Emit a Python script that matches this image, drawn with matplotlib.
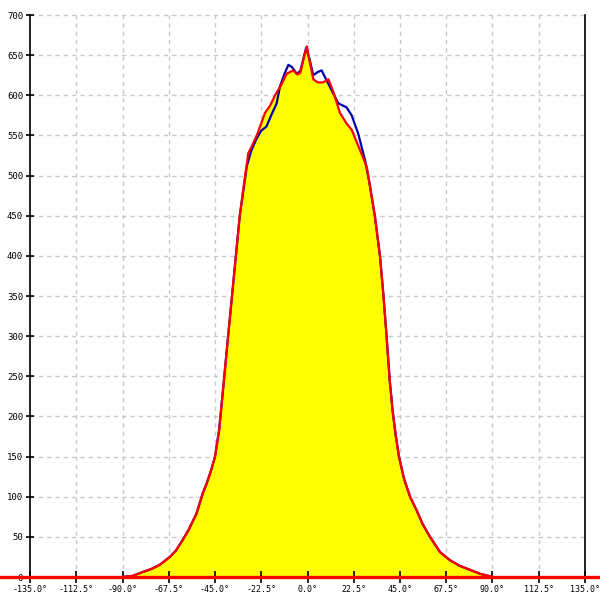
import matplotlib
matplotlib.use("Agg")
import matplotlib.pyplot as plt

# angle (deg) / counts
blue_deg = [-90, -85, -81.5, -76, -72, -67, -64, -61, -58, -54, -51, -49, -47, -45,
            -43, -41, -39, -37, -35, -33, -31, -29.5, -27.5, -25,
            -22.5, -20, -17.5, -15, -13.4, -11, -9.3, -7.5, -5.3, -3.5, -0.7, 1, 2.8,
            5, 6.9, 9, 12.6, 15, 16.6, 19, 21.5, 24.7, 28, 30, 32.8, 35.3, 37, 38.5,
            40, 41.5, 43, 44.5, 47, 49.9, 53.1, 56, 59.6, 64.5, 69.3, 74, 79, 84, 87.2, 90]
blue_val = [0, 1.5, 5, 10, 15, 25, 33, 45, 58, 79, 104, 117, 132, 150,
            183, 236, 290, 343, 396, 449, 485, 512, 530, 545,
            556, 561, 576, 590, 611, 628, 638, 635, 627, 630, 659, 645, 625,
            629, 631, 620, 602, 590, 588, 585, 575, 552, 519, 493, 449, 399, 349, 299,
            245, 205, 175, 150, 122, 100, 83, 66, 50, 31, 21, 14, 9, 4, 2, 0]

red_deg = [-90, -85, -81.5, -76, -72, -67, -64, -61, -58, -54, -51, -49, -47, -45,
           -43, -41, -39, -37, -35, -33, -31, -29.5, -28.8, -27.2,
           -24.7, -22.5, -20.7, -18.2, -15.8, -13, -10.1, -6.9, -5, -3.5, -1.5, -0.3,
           1.2, 2.8, 5, 7.5, 10.2, 12.6, 15.8, 19, 21.5, 25.5, 28.8, 30, 32.8, 35.3,
           37, 38.5, 40, 41.5, 43, 44.5, 47, 49.9, 53.1, 56, 59.6, 64.5, 69.3, 74, 79,
           84, 87.2, 90]
red_val = [0, 1.5, 5, 10, 15, 25, 33, 45, 58, 79, 104, 117, 132, 150,
           183, 236, 290, 343, 396, 449, 488, 515, 528, 536,
           550, 565, 578, 587, 600, 612, 627, 631, 626, 628, 650, 661,
           640, 620, 616, 616, 620, 604, 578, 565, 557, 532, 511, 493, 449, 399,
           349, 299, 245, 205, 175, 150, 122, 100, 83, 66, 50, 31, 21, 14, 9,
           4, 2, 0]

x_ticks = [-135.0, -112.5, -90.0, -67.5, -45.0, -22.5, 0.0, 22.5, 45.0, 67.5, 90.0, 112.5, 135.0]
y_ticks = list(range(0, 701, 50))

fig = plt.figure(figsize=(6, 6), dpi=100)
ax = fig.add_axes([0, 0, 1, 1])
ax.set_xlim(-149.6, 142.3)
ax.set_ylim(-28.6, 718.7)

grid_kw = dict(color="#c8c8c8", linewidth=1, linestyles=(0, (3, 3)), zorder=0)
ax.vlines(x_ticks[1:-1], 0, 700, **grid_kw)
ax.hlines(y_ticks[1:], -135, 135, **grid_kw)

ax.fill_between(red_deg, red_val, 0, color="#ffff00", linewidth=0, zorder=1)
ax.plot(blue_deg, blue_val, color="#0000aa", linewidth=1.6, zorder=2)
ax.plot(red_deg, red_val, color="#ff0000", linewidth=1.6, zorder=3)

# axes frame: left/right lines at +-135, x ticks on the zero line
ax.spines["top"].set_visible(False)
ax.spines["bottom"].set_visible(False)
ax.spines["bottom"].set_position(("data", 0))
ax.spines["left"].set_position(("data", -135))
ax.spines["left"].set_bounds(0, 700)
ax.spines["right"].set_position(("data", 135))
ax.spines["right"].set_bounds(0, 700)
for side in ["left", "right"]:
    ax.spines[side].set_linewidth(1.2)
    ax.spines[side].set_zorder(4)

ax.set_yticks(y_ticks)
ax.set_yticklabels([str(v) for v in y_ticks], fontfamily="DejaVu Sans Mono", fontsize=6.5)
ax.tick_params(axis="y", direction="inout", length=6, width=1.2, pad=2, left=True, right=False)

ax.set_xticks(x_ticks)
ax.set_xticklabels([f"{v:.1f}°" for v in x_ticks], fontfamily="DejaVu Sans Mono", fontsize=6)
ax.tick_params(axis="x", direction="inout", length=9, width=1.2, pad=1)

ax.axhline(0, color="#ff0000", linewidth=2.4, zorder=5)

fig.savefig("out.png", dpi=100)
